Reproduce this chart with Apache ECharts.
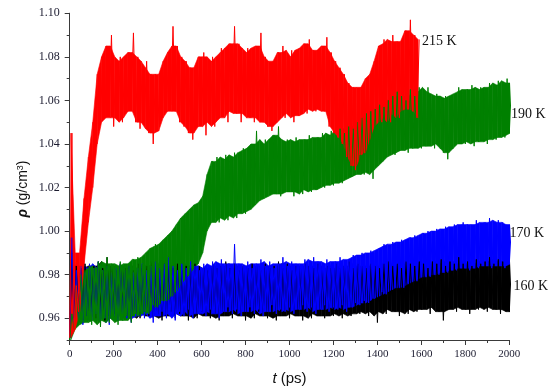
<!DOCTYPE html>
<html><head><meta charset="utf-8">
<script src="https://cdn.jsdelivr.net/npm/echarts@6/dist/echarts.min.js"></script>
<style>html,body{margin:0;padding:0;background:#fff}#c{width:560px;height:392px}</style>
</head><body><div id="c"></div>
<script>
// time step (ps) between envelope readings; each reading gives a low and a high value
const step = 20;
const xTicks = [0,200,400,600,800,1000,1200,1400,1600,1800,2000];
const yTicks = [0.96,0.98,1.00,1.02,1.04,1.06,1.08,1.10];
const yMinorTicks = [0.95,0.97,0.99,1.01,1.03,1.05,1.07,1.09];
const seriesNames = ['160 K','170 K','190 K','215 K'];

// 215 K (t = 0 .. 1580 ps)
const red_low = [0.951,0.955,0.963,0.984,1.004,1.020,1.040,1.050,1.052,1.055,
1.048,1.052,1.050,1.055,1.058,1.050,1.047,1.052,1.045,1.040,
1.046,1.052,1.055,1.058,1.055,1.050,1.048,1.045,1.042,1.048,
1.052,1.044,1.050,1.048,1.052,1.055,1.050,1.058,1.054,1.050,
1.055,1.052,1.050,1.055,1.050,1.048,1.046,1.050,1.054,1.052,
1.055,1.050,1.053,1.056,1.054,1.056,1.055,1.057,1.055,1.048,
1.045,1.043,1.040,1.034,1.030,1.028,1.035,1.036,1.042,1.048,
1.052,1.050,1.054,1.050,1.055,1.052,1.056,1.058,1.055,1.052];
const red_high = [1.045,0.975,0.990,1.015,1.034,1.050,1.072,1.080,1.085,1.090,
1.078,1.080,1.076,1.082,1.091,1.080,1.075,1.078,1.072,1.072,
1.070,1.078,1.082,1.094,1.085,1.080,1.078,1.075,1.072,1.080,
1.082,1.078,1.080,1.078,1.084,1.082,1.086,1.094,1.086,1.082,
1.084,1.078,1.085,1.091,1.080,1.076,1.078,1.082,1.085,1.080,
1.083,1.079,1.084,1.086,1.088,1.083,1.080,1.085,1.089,1.082,
1.078,1.075,1.072,1.068,1.066,1.062,1.066,1.070,1.072,1.078,
1.085,1.088,1.086,1.090,1.087,1.085,1.092,1.097,1.090,1.088];

// 190 K (t = 0 .. 2000 ps)
const green_low = [0.950,0.955,0.957,0.958,0.960,0.957,0.959,0.956,0.960,0.958,
0.960,0.957,0.959,0.961,0.958,0.962,0.961,0.963,0.962,0.966,
0.965,0.968,0.968,0.970,0.972,0.975,0.978,0.980,0.983,0.985,
0.990,1.000,1.004,1.006,1.004,1.007,1.005,1.008,1.006,1.009,
1.008,1.010,1.012,1.014,1.015,1.016,1.018,1.017,1.016,1.019,
1.018,1.016,1.019,1.017,1.020,1.018,1.019,1.021,1.020,1.022,
1.021,1.023,1.022,1.024,1.025,1.026,1.027,1.026,1.028,1.024,
1.030,1.032,1.034,1.036,1.035,1.037,1.038,1.036,1.038,1.040,
1.038,1.039,1.040,1.038,1.040,1.036,1.033,1.038,1.040,1.041,
1.040,1.042,1.039,1.041,1.042,1.040,1.043,1.042,1.044,1.043,
1.045];
const green_high = [0.962,0.975,0.980,0.982,0.984,0.983,0.986,0.982,0.988,0.985,
0.983,0.986,0.984,0.985,0.987,0.988,0.985,0.990,0.992,0.994,
0.993,0.996,0.998,1.000,1.003,1.006,1.008,1.010,1.012,1.013,
1.016,1.026,1.032,1.034,1.030,1.035,1.033,1.036,1.034,1.038,
1.037,1.040,1.046,1.040,1.042,1.040,1.044,1.048,1.041,1.042,
1.040,1.043,1.041,1.042,1.044,1.041,1.043,1.045,1.042,1.046,
1.044,1.047,1.045,1.048,1.047,1.050,1.052,1.054,1.055,1.056,
1.058,1.057,1.060,1.062,1.064,1.062,1.060,1.065,1.062,1.066,
1.064,1.066,1.062,1.063,1.061,1.062,1.060,1.063,1.066,1.064,
1.065,1.067,1.064,1.066,1.065,1.068,1.066,1.069,1.067,1.070,
1.068];

// 170 K (t = 0 .. 2000 ps)
const blue_low = [0.951,0.958,0.960,0.957,0.961,0.959,0.962,0.958,0.960,0.957,
0.961,0.959,0.962,0.960,0.958,0.961,0.963,0.960,0.962,0.958,
0.961,0.963,0.960,0.962,0.959,0.963,0.961,0.964,0.960,0.962,
0.963,0.961,0.964,0.962,0.960,0.963,0.965,0.962,0.964,0.961,
0.963,0.965,0.962,0.964,0.961,0.963,0.966,0.962,0.964,0.963,
0.965,0.962,0.964,0.966,0.963,0.965,0.962,0.964,0.966,0.963,
0.965,0.964,0.966,0.963,0.965,0.967,0.966,0.968,0.967,0.969,
0.970,0.972,0.971,0.973,0.974,0.975,0.974,0.976,0.978,0.977,
0.979,0.980,0.979,0.981,0.980,0.982,0.981,0.983,0.982,0.984,
0.983,0.982,0.984,0.983,0.985,0.984,0.983,0.985,0.984,0.983,
0.985];
const blue_high = [0.997,0.982,0.984,0.981,0.985,0.983,0.986,0.982,0.984,0.981,
0.983,0.985,0.982,0.984,0.981,0.983,0.985,0.982,0.984,0.986,
0.983,0.985,0.988,0.984,0.982,0.985,0.983,0.986,0.984,0.982,
0.985,0.983,0.986,0.984,0.987,0.985,0.983,0.994,0.985,0.984,
0.986,0.983,0.985,0.987,0.984,0.986,0.983,0.985,0.988,0.984,
0.986,0.985,0.983,0.987,0.985,0.988,0.986,0.984,0.987,0.985,
0.986,0.988,0.985,0.987,0.989,0.988,0.990,0.989,0.991,0.990,
0.992,0.994,0.993,0.995,0.994,0.996,0.995,0.997,0.998,0.997,
0.999,1.000,0.999,1.001,1.000,1.002,1.001,1.003,1.002,1.004,
1.003,1.002,1.005,1.003,1.004,1.006,1.003,1.005,1.004,1.002,
1.003];

// 160 K (t = 0 .. 2000 ps)
const black_low = [0.951,0.960,0.962,0.959,0.961,0.963,0.960,0.962,0.959,0.961,
0.962,0.960,0.963,0.961,0.959,0.962,0.960,0.963,0.961,0.960,
0.962,0.959,0.961,0.963,0.960,0.962,0.961,0.959,0.962,0.960,
0.963,0.961,0.960,0.962,0.959,0.961,0.963,0.960,0.962,0.961,
0.959,0.962,0.960,0.963,0.961,0.960,0.962,0.959,0.961,0.963,
0.960,0.962,0.961,0.959,0.962,0.960,0.963,0.961,0.960,0.962,
0.961,0.963,0.960,0.962,0.961,0.963,0.962,0.964,0.961,0.963,
0.958,0.964,0.962,0.965,0.963,0.961,0.964,0.962,0.965,0.963,
0.964,0.966,0.962,0.965,0.963,0.959,0.964,0.966,0.963,0.965,
0.964,0.962,0.966,0.964,0.965,0.963,0.966,0.964,0.962,0.965,
0.963];
const black_high = [0.990,0.984,0.983,0.985,0.982,0.984,0.986,0.983,0.988,0.984,
0.982,0.985,0.983,0.984,0.982,0.985,0.983,0.984,0.986,0.983,
0.982,0.985,0.984,0.983,0.985,0.982,0.984,0.983,0.985,0.984,
0.983,0.982,0.985,0.983,0.984,0.986,0.983,0.985,0.982,0.984,
0.983,0.985,0.984,0.982,0.985,0.983,0.984,0.986,0.983,0.985,
0.982,0.984,0.983,0.985,0.984,0.983,0.985,0.982,0.984,0.983,
0.985,0.983,0.984,0.986,0.983,0.985,0.984,0.983,0.985,0.984,
0.983,0.985,0.986,0.984,0.985,0.983,0.986,0.985,0.984,0.986,
0.985,0.983,0.986,0.985,0.987,0.984,0.986,0.985,0.988,0.985,
0.986,0.984,0.987,0.985,0.986,0.988,0.985,0.987,0.986,0.984,
0.986];

// zig-zag trace through the read low/high values
function zigzag(low, high) {
  const d = [];
  for (let i = 0; i < low.length; i++) {
    const t = i * step;
    d.push([t, low[i]]);
    d.push([t + step / 2, high[i]]);
  }
  return d;
}
function median3(a, b, c) { return Math.max(Math.min(a, b), Math.min(Math.max(a, b), c)); }
// dense core of the trace (isolated spikes removed); item = [t, lo, hi, tNext, loNext, hiNext]
function coreBand(low, high) {
  const n = low.length, pts = [];
  for (let i = 0; i < n; i++) {
    const a = Math.max(0, i - 1), b = Math.min(n - 1, i + 1);
    let lo = median3(low[a], low[i], low[b]);
    let hi = median3(high[a], high[i], high[b]);
    if (hi < lo) { const m = (hi + lo) / 2; lo = m; hi = m; }
    pts.push([i * step + step / 4, lo, hi]);
  }
  const items = [];
  for (let i = 0; i < n - 1; i++) items.push(pts[i].concat(pts[i + 1]));
  return items;
}

const chart = echarts.init(document.getElementById('c'), null, {renderer: 'canvas'});
const serif = '"Liberation Serif","Times New Roman",serif';
const sans = '"Liberation Sans",Arial,sans-serif';
const axisCol = '#3a3a3a';
const lbl = {fontFamily: serif, fontSize: 12, color: '#1c1c30'};

function mkSeries(name, low, high, color) {
  return [
    {
      name: name + ' core', type: 'custom', data: coreBand(low, high), clip: true,
      animation: false, silent: true,
      encode: {x: [0, 3], y: [1, 2, 4, 5]},
      renderItem: function (params, api) {
        const p1 = api.coord([api.value(0), api.value(1)]);
        const p2 = api.coord([api.value(3), api.value(4)]);
        const p3 = api.coord([api.value(3), api.value(5)]);
        const p4 = api.coord([api.value(0), api.value(2)]);
        return {type: 'polygon', shape: {points: [p1, p2, p3, p4]},
          style: {fill: color, stroke: color, lineWidth: 0.6}};
      }
    },
    {name, type: 'line', data: zigzag(low, high), symbol: 'none', showSymbol: false,
     animation: false, silent: true, sampling: null, lineStyle: {width: 1, color}, itemStyle: {color}}
  ];
}

chart.setOption({
  animation: false,
  grid: {left: 69.7, right: 50.7, top: 13.3, bottom: 52},
  xAxis: {
    type: 'value', min: 0, max: 2000, interval: 200,
    axisLine: {lineStyle: {color: axisCol, width: 1}},
    axisTick: {length: 5, lineStyle: {color: axisCol}},
    minorTick: {show: true, splitNumber: 2, length: 3, lineStyle: {color: axisCol}},
    splitLine: {show: false},
    axisLabel: {margin: 9, fontSize: 11, fontFamily: serif, color: '#1c1c30', formatter: v => String(v)},
    name: '{i|t} (ps)', nameLocation: 'middle', nameGap: 31,
    nameTextStyle: {fontFamily: sans, fontSize: 15, color: '#111', rich: {i: {fontFamily: sans, fontSize: 15, fontStyle: 'italic', color: '#111'}}}
  },
  yAxis: [{
    type: 'value', min: 0.95, max: 1.10,
    axisLine: {show: true, lineStyle: {color: axisCol, width: 1}},
    axisTick: {show: true, length: 5, customValues: yTicks, lineStyle: {color: axisCol}},
    axisLabel: Object.assign({margin: 10, customValues: yTicks, formatter: v => v.toFixed(2)}, lbl),
    splitLine: {show: false}
  }, {
    type: 'value', min: 0.95, max: 1.10, position: 'left',
    axisLine: {show: true, lineStyle: {color: axisCol, width: 1}},
    axisTick: {show: true, length: 3, customValues: yMinorTicks, lineStyle: {color: axisCol}},
    axisLabel: {show: false},
    splitLine: {show: false}
  }],
  series: [].concat(
    mkSeries(seriesNames[0], black_low, black_high, '#000000'),
    mkSeries(seriesNames[1], blue_low, blue_high, '#0000ff'),
    mkSeries(seriesNames[2], green_low, green_high, '#008000'),
    mkSeries(seriesNames[3], red_low, red_high, '#ff0000')
  )
});

// series name labels placed in data coordinates
const labelAt = [[2019, 0.9745], [2001, 0.9991], [2008, 1.0536], [1603, 1.0873]];
const graphics = labelAt.map((p, i) => {
  const px = chart.convertToPixel({gridIndex: 0}, p);
  return {type: 'text', x: px[0], y: px[1], style: {text: seriesNames[i], font: '14px ' + serif, fill: '#111', align: 'left', verticalAlign: 'middle'}};
});
graphics.push({
  type: 'text', x: 22.7, y: 189, rotation: Math.PI / 2,
  style: {
    text: '{r|ρ} (g/cm{s|3})', align: 'center', verticalAlign: 'middle',
    font: '14px ' + sans, fill: '#111',
    rich: {
      r: {fontFamily: sans, fontSize: 14, fontWeight: 'bold', fontStyle: 'italic', fill: '#111'},
      s: {fontFamily: sans, fontSize: 9, verticalAlign: 'top', fill: '#111'}
    }
  }
});
chart.setOption({graphic: graphics});
</script>
</body></html>
